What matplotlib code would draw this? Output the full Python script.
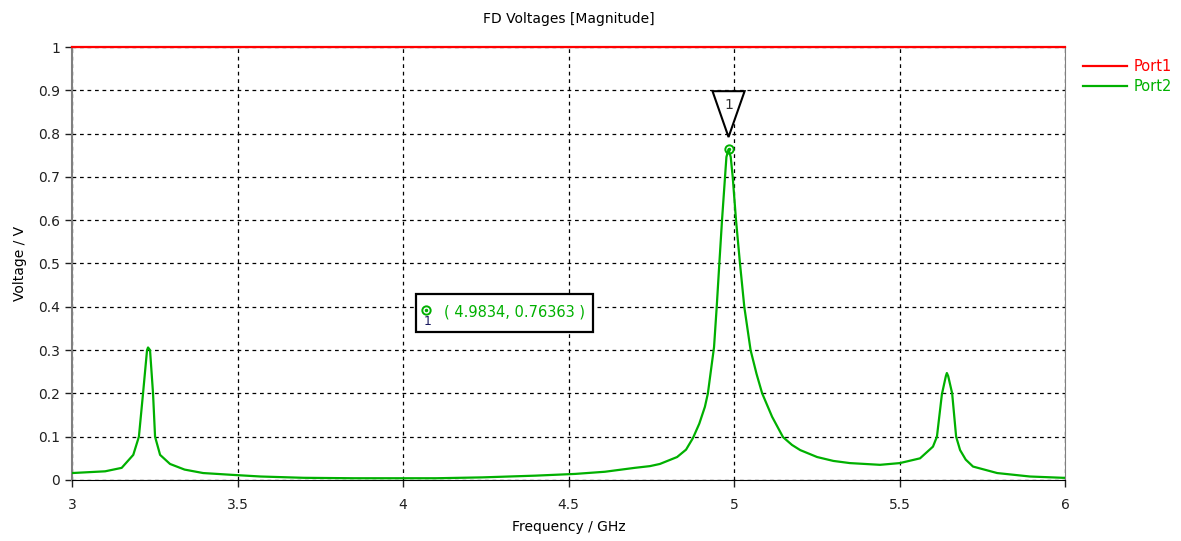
import numpy as np
import matplotlib
matplotlib.use('Agg')
import matplotlib.pyplot as plt
from matplotlib.patches import Polygon, Rectangle

# Data
freq = [3.000, 3.100, 3.150, 3.185, 3.202, 3.2145, 3.2266, 3.2296, 3.2356,
        3.2447, 3.2508, 3.266, 3.296, 3.340, 3.396, 3.480, 3.570, 3.700,
        3.850, 4.100, 4.240, 4.400, 4.520, 4.610, 4.700, 4.746, 4.776,
        4.828, 4.855, 4.876, 4.895, 4.912, 4.921, 4.9396, 4.9477, 4.9556,
        4.9637, 4.9728, 4.977, 4.9834, 4.990, 4.996, 5.006, 5.018, 5.031,
        5.050, 5.068, 5.085, 5.115, 5.148, 5.175, 5.200, 5.251, 5.300,
        5.350, 5.441, 5.501, 5.562, 5.601, 5.613, 5.628, 5.640, 5.643,
        5.647, 5.659, 5.671, 5.683, 5.700, 5.722, 5.795, 5.894, 5.994, 6.000]
port2 = [0.016, 0.020, 0.028, 0.058, 0.100, 0.200, 0.300, 0.306, 0.300,
         0.200, 0.100, 0.058, 0.037, 0.024, 0.016, 0.012, 0.008, 0.005,
         0.004, 0.004, 0.006, 0.010, 0.014, 0.019, 0.028, 0.032, 0.037,
         0.053, 0.070, 0.097, 0.130, 0.169, 0.200, 0.307, 0.400, 0.500,
         0.600, 0.700, 0.746, 0.76363, 0.746, 0.700, 0.600, 0.500, 0.400,
         0.300, 0.245, 0.200, 0.146, 0.099, 0.081, 0.069, 0.053, 0.044,
         0.039, 0.035, 0.039, 0.050, 0.077, 0.100, 0.198, 0.240, 0.247,
         0.240, 0.200, 0.100, 0.069, 0.047, 0.031, 0.016, 0.008, 0.005, 0.005]
port1_freq = [3.0, 6.0]
port1 = [1.0, 1.0]

marker_x, marker_y = 4.9834, 0.76363

xticks = [3, 3.5, 4, 4.5, 5, 5.5, 6]
xlabels = ['3', '3.5', '4', '4.5', '5', '5.5', '6']
yticks = [0, 0.1, 0.2, 0.3, 0.4, 0.5, 0.6, 0.7, 0.8, 0.9, 1]
ylabels = ['0', '0.1', '0.2', '0.3', '0.4', '0.5', '0.6', '0.7', '0.8', '0.9', '1']

green = '#00b000'
red = '#ff0000'

plt.rcParams['font.family'] = 'DejaVu Sans'
fig = plt.figure(figsize=(11.81, 5.41), dpi=100)
ax = fig.add_axes([0.061, 0.1128, 0.8408, 0.8003])

ax.plot(port1_freq, port1, color=red, lw=1.6, label='Port1', zorder=4, clip_on=False)
ax.plot(freq, port2, color=green, lw=1.6, label='Port2', zorder=3)

ax.set_xlim(3, 6)
ax.set_ylim(0, 1)
ax.set_xticks(xticks)
ax.set_xticklabels(xlabels)
ax.set_yticks(yticks)
ax.set_yticklabels(ylabels)
ax.tick_params(labelsize=10, length=5, width=1, colors='#202020')
ax.tick_params(axis='x', pad=8)
ax.grid(True, color='black', ls=(0, (3, 3)), lw=0.9)

for side in ['left', 'right', 'top']:
    ax.spines[side].set_color('#808080')
ax.spines['left'].set_linewidth(1.5)
ax.spines['right'].set_linewidth(0.8)
ax.spines['bottom'].set_color('black')

ax.set_title('FD Voltages [Magnitude]', fontsize=10, pad=17)
ax.set_xlabel('Frequency / GHz', fontsize=10, labelpad=6)
ax.set_ylabel('Voltage / V', fontsize=10, labelpad=8)

# peak marker
ax.plot([marker_x], [marker_y], 'o', ms=6, mfc='none', mec=green, mew=1.4, zorder=5)
ax.plot([marker_x], [marker_y], 'o', ms=1.5, color=green, zorder=5)
tri = Polygon([[4.935, 0.898], [5.032, 0.898], [marker_x, 0.792]], closed=True,
              fc='white', ec='black', lw=1.5, zorder=6)
ax.add_patch(tri)
ax.text(4.983, 0.866, '1', ha='center', va='center', fontsize=10, color='#303030', zorder=7)

# value box
box = Rectangle((4.039, 0.342), 0.535, 0.088, fc='white', ec='black', lw=1.6, zorder=6)
ax.add_patch(box)
ax.plot([4.07], [0.392], 'o', ms=6, mfc='none', mec=green, mew=1.4, zorder=7)
ax.plot([4.07], [0.392], 'o', ms=1.5, color=green, zorder=7)
ax.text(4.074, 0.365, '1', ha='center', va='center', fontsize=9, color='#1a1a60', zorder=7)
ax.text(4.125, 0.388, '( %.4f, %.5f )' % (marker_x, marker_y), ha='left', va='center',
        fontsize=10.5, color=green, zorder=7)

leg = ax.legend(loc='upper left', bbox_to_anchor=(1.012, 0.985), frameon=False,
                fontsize=10.5, handlelength=3.0, handletextpad=0.5, labelspacing=0.35,
                borderaxespad=0)
for txt, c in zip(leg.get_texts(), [red, green]):
    txt.set_color(c)

fig.savefig('out.png', dpi=100)
